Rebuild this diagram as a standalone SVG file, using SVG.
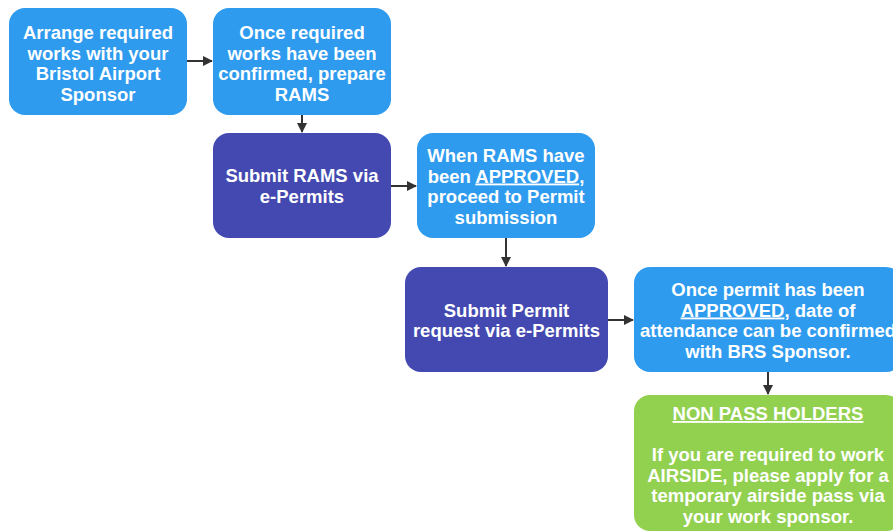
<svg xmlns="http://www.w3.org/2000/svg" width="893" height="532" viewBox="0 0 893 532">
<defs>
<style>
.lb{fill:#2E9BEF}
.dk{fill:#4349B0}
.gr{fill:#92D050}
text{font-family:"Liberation Sans",Arial,sans-serif;font-weight:bold;font-size:18.5px;fill:#fff;text-anchor:middle}
.u{text-decoration:underline}
.c{stroke:#333;stroke-width:2;fill:none;marker-end:url(#ah)}
</style>
<marker id="ah" viewBox="0 0 10 10" refX="9" refY="5" markerWidth="5" markerHeight="5" orient="auto" markerUnits="strokeWidth">
<path d="M0,0 L10,5 L0,10 z" fill="#333"/>
</marker>
</defs>
<rect width="893" height="532" fill="#fff"/>
<g id="connectors">
<line class="c" x1="187" y1="61" x2="212" y2="61"/>
<line class="c" x1="302" y1="115" x2="302" y2="132"/>
<line class="c" x1="391" y1="186" x2="416" y2="186"/>
<line class="c" x1="506" y1="238" x2="506" y2="266"/>
<line class="c" x1="608" y1="320" x2="633" y2="320"/>
<line class="c" x1="768" y1="372" x2="768" y2="394"/>
</g>
<g id="n1">
<rect class="lb" x="9" y="8" width="178" height="107" rx="16"/>
<text x="98" y="39">Arrange required</text>
<text x="98" y="59.5">works with your</text>
<text x="98" y="80">Bristol Airport</text>
<text x="98" y="100.5">Sponsor</text>
</g>
<g id="n2">
<rect class="lb" x="213" y="8" width="178" height="107" rx="16"/>
<text x="302" y="39">Once required</text>
<text x="302" y="59.5">works have been</text>
<text x="302" y="80">confirmed, prepare</text>
<text x="302" y="100.5">RAMS</text>
</g>
<g id="n3">
<rect class="dk" x="213" y="133" width="178" height="105" rx="16"/>
<text x="302" y="182">Submit RAMS via</text>
<text x="302" y="202.5">e-Permits</text>
</g>
<g id="n4">
<rect class="lb" x="417" y="133" width="178" height="105" rx="16"/>
<text x="506" y="162">When RAMS have</text>
<text x="506" y="182.5">been <tspan class="u">APPROVED</tspan>,</text>
<text x="506" y="203">proceed to Permit</text>
<text x="506" y="223.5">submission</text>
</g>
<g id="n5">
<rect class="dk" x="405" y="267" width="203" height="105" rx="16"/>
<text x="506.5" y="316.5">Submit Permit</text>
<text x="506.5" y="337">request via e-Permits</text>
</g>
<g id="n6">
<rect class="lb" x="634" y="267" width="268" height="105" rx="16"/>
<text x="768" y="296">Once permit has been</text>
<text x="768" y="316.5"><tspan class="u">APPROVED</tspan>, date of</text>
<text x="768" y="337">attendance can be confirmed</text>
<text x="768" y="357.5">with BRS Sponsor.</text>
</g>
<g id="n7">
<rect class="gr" x="634" y="395" width="268" height="136" rx="16"/>
<text x="768" y="420" class="u">NON PASS HOLDERS</text>
<text x="768" y="461">If you are required to work</text>
<text x="768" y="481.5">AIRSIDE, please apply for a</text>
<text x="768" y="502">temporary airside pass via</text>
<text x="768" y="522.5">your work sponsor.</text>
</g>
</svg>
